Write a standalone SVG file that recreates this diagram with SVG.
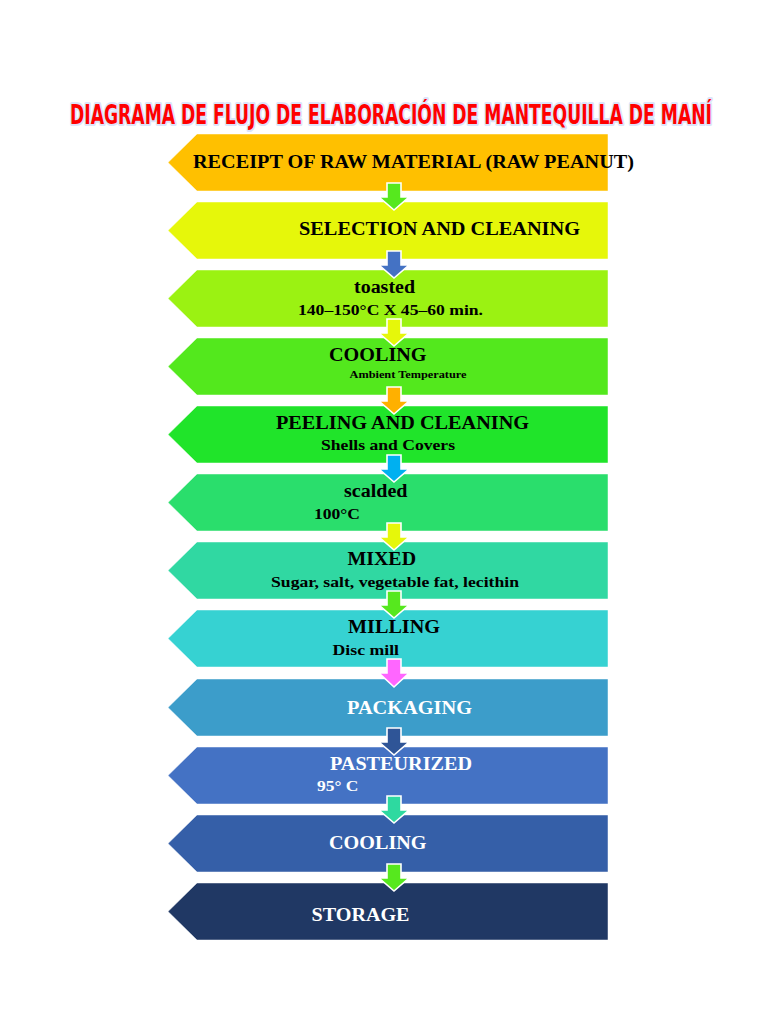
<svg xmlns="http://www.w3.org/2000/svg" width="768" height="1024" viewBox="0 0 768 1024">
<style>
.bn{stroke:#ffffff;stroke-opacity:0.6;stroke-width:0.8}
.ar{stroke:#ffffff;stroke-width:1.6;stroke-linejoin:miter}
.t{font-family:"Liberation Serif","Times New Roman",serif;font-weight:bold;font-size:18.5px;fill:#000}
.s{font-family:"Liberation Serif","Times New Roman",serif;font-weight:bold;font-size:15.5px;fill:#000}
.xs{font-family:"Liberation Serif","Times New Roman",serif;font-weight:bold;font-size:11px;fill:#000}
.w{fill:#ffffff}
.title{font-family:"Liberation Sans Narrow","DejaVu Sans Condensed","Liberation Sans",sans-serif;font-weight:bold;font-size:19.1px;fill:#FF0000;stroke:#DCE4FA;stroke-width:3;paint-order:stroke;stroke-linejoin:round}
</style>
<rect width="768" height="1024" fill="#ffffff"/>
<text class="title" transform="scale(1,1.41)" x="70" y="87.6" textLength="642" lengthAdjust="spacingAndGlyphs">DIAGRAMA DE FLUJO DE ELABORACIÓN DE MANTEQUILLA DE MANÍ</text>

<g id="n1"><polygon class="bn" fill="#FFC000" points="168,162.5 197,134 608,134 608,191 197,191"/>
<text class="t" x="193" y="168" textLength="441" lengthAdjust="spacingAndGlyphs">RECEIPT OF RAW MATERIAL (RAW PEANUT)</text></g>
<g id="n2"><polygon class="bn" fill="#E6F70A" points="168,230.5 197,202 608,202 608,259 197,259"/>
<text class="t" x="299" y="235" textLength="281" lengthAdjust="spacingAndGlyphs">SELECTION AND CLEANING</text></g>
<g id="n3"><polygon class="bn" fill="#9BF212" points="168,298.5 197,270 608,270 608,327 197,327"/>
<text class="t" x="354" y="292.5" textLength="61" lengthAdjust="spacingAndGlyphs">toasted</text>
<text class="s" x="298" y="315" textLength="185" lengthAdjust="spacingAndGlyphs">140–150°C X 45–60 min.</text></g>
<g id="n4"><polygon class="bn" fill="#53E81D" points="168,366.5 197,338 608,338 608,395 197,395"/>
<text class="t" x="329" y="360.5" textLength="97.5" lengthAdjust="spacingAndGlyphs">COOLING</text>
<text class="xs" x="349.5" y="377.5" textLength="117" lengthAdjust="spacingAndGlyphs">Ambient Temperature</text></g>
<g id="n5"><polygon class="bn" fill="#20E42A" points="168,434.5 197,406 608,406 608,463 197,463"/>
<text class="t" x="276" y="429" textLength="253" lengthAdjust="spacingAndGlyphs">PEELING AND CLEANING</text>
<text class="s" x="321" y="450" textLength="134" lengthAdjust="spacingAndGlyphs">Shells and Covers</text></g>
<g id="n6"><polygon class="bn" fill="#2ADE6C" points="168,502.5 197,474 608,474 608,531 197,531"/>
<text class="t" x="344" y="497" textLength="63.5" lengthAdjust="spacingAndGlyphs">scalded</text>
<text class="s" x="314" y="518.5" textLength="46" lengthAdjust="spacingAndGlyphs">100°C</text></g>
<g id="n7"><polygon class="bn" fill="#30D8A2" points="168,570.5 197,542 608,542 608,599 197,599"/>
<text class="t" x="347.5" y="565" textLength="68.5" lengthAdjust="spacingAndGlyphs">MIXED</text>
<text class="s" x="271" y="587" textLength="248" lengthAdjust="spacingAndGlyphs">Sugar, salt, vegetable fat, lecithin</text></g>
<g id="n8"><polygon class="bn" fill="#36D2D2" points="168,638.5 197,610 608,610 608,667 197,667"/>
<text class="t" x="348" y="633" textLength="92" lengthAdjust="spacingAndGlyphs">MILLING</text>
<text class="s" x="332.5" y="655" textLength="66.5" lengthAdjust="spacingAndGlyphs">Disc mill</text></g>
<g id="n9"><polygon class="bn" fill="#3C9DCA" points="168,707.5 197,679 608,679 608,736 197,736"/>
<text class="t w" x="347" y="713.5" textLength="125" lengthAdjust="spacingAndGlyphs">PACKAGING</text></g>
<g id="n10"><polygon class="bn" fill="#4472C4" points="168,775.5 197,747 608,747 608,804 197,804"/>
<text class="t w" x="330" y="770" textLength="142" lengthAdjust="spacingAndGlyphs">PASTEURIZED</text>
<text class="s w" x="317" y="791" textLength="41.5" lengthAdjust="spacingAndGlyphs">95° C</text></g>
<g id="n11"><polygon class="bn" fill="#355FA8" points="168,843.5 197,815 608,815 608,872 197,872"/>
<text class="t w" x="329" y="849" textLength="97.5" lengthAdjust="spacingAndGlyphs">COOLING</text></g>
<g id="n12"><polygon class="bn" fill="#203864" points="168,911.5 197,883 608,883 608,940 197,940"/>
<text class="t w" x="311.5" y="921" textLength="98" lengthAdjust="spacingAndGlyphs">STORAGE</text></g>

<g id="connectors">
<polygon class="ar" fill="#56E81E" points="387,183 401,183 401,197 409,197 394,210 379,197 387,197"/>
<polygon class="ar" fill="#4472C4" points="387,251 401,251 401,265 409,265 394,278 379,265 387,265"/>
<polygon class="ar" fill="#E6F70A" points="387,319 401,319 401,333 409,333 394,346 379,333 387,333"/>
<polygon class="ar" fill="#FFB000" points="387,387 401,387 401,401 409,401 394,414 379,401 387,401"/>
<polygon class="ar" fill="#00B0F0" points="387,455 401,455 401,469 409,469 394,482 379,469 387,469"/>
<polygon class="ar" fill="#E6F70A" points="387,523 401,523 401,537 409,537 394,550 379,537 387,537"/>
<polygon class="ar" fill="#56E81E" points="387,591 401,591 401,605 409,605 394,618 379,605 387,605"/>
<polygon class="ar" fill="#FF66FF" points="387,659 401,659 401,673 409,673 394,687 379,673 387,673"/>
<polygon class="ar" fill="#2F5597" points="387,728 401,728 401,742 409,742 394,755 379,742 387,742"/>
<polygon class="ar" fill="#2ED9A0" points="387,796 401,796 401,810 409,810 394,823 379,810 387,810"/>
<polygon class="ar" fill="#56E81E" points="387,864 401,864 401,878 409,878 394,891 379,878 387,878"/>
</g>
</svg>
